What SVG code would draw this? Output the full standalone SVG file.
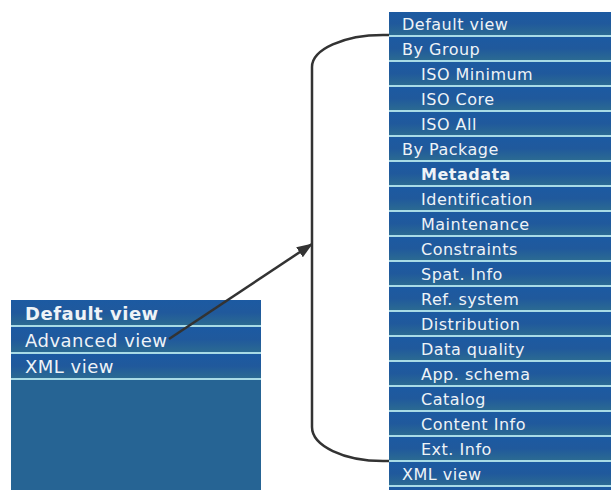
<svg xmlns="http://www.w3.org/2000/svg" width="611" height="490" viewBox="0 0 611 490">
  <style>
    .item { font-family: "DejaVu Sans", Verdana, sans-serif; fill: #eef3f7; }
    .r { font-size: 16px; letter-spacing: 0.5px; }
    .l { font-size: 18px; letter-spacing: 0.5px; }
    .b { font-weight: bold; }
    .sep { fill: #a8dbe6; }
    .link { fill: none; stroke: #333; stroke-width: 2.5; }
  </style>
  <defs>
    <linearGradient id="rowGrad" x1="0" y1="0" x2="0" y2="1">
      <stop offset="0" stop-color="#1c5aa2"/>
      <stop offset="0.5" stop-color="#20599c"/>
      <stop offset="1" stop-color="#2b6a92"/>
    </linearGradient>
    <!-- one menu row: shaded band plus a light separator at the bottom -->
    <pattern id="rowsRight" patternUnits="userSpaceOnUse" x="0" y="12" width="611" height="25">
      <rect x="0" y="0" width="611" height="23" fill="url(#rowGrad)"/>
      <rect class="sep" x="0" y="23" width="611" height="2"/>
    </pattern>
    <marker id="arrow" viewBox="0 0 16 12" refX="15" refY="6" markerWidth="16" markerHeight="12" markerUnits="userSpaceOnUse" orient="auto">
      <path d="M0,0 L16,6 L0,12 z" fill="#333"/>
    </marker>
  </defs>

  <rect width="611" height="490" fill="#fff"/>

  <!-- simple menu -->
  <g id="menu-simple">
    <rect x="11" y="300" width="250" height="190" fill="#266494"/>
    <rect x="11" y="300" width="250" height="25" fill="url(#rowGrad)"/>
    <rect class="sep" x="11" y="325" width="250" height="2"/>
    <rect x="11" y="327" width="250" height="25" fill="url(#rowGrad)"/>
    <rect class="sep" x="11" y="352" width="250" height="2"/>
    <rect x="11" y="354" width="250" height="24" fill="url(#rowGrad)"/>
    <rect class="sep" x="11" y="378" width="250" height="2"/>
    <text class="item l b" x="25" y="320">Default view</text>
    <text class="item l" x="25" y="346.5">Advanced view</text>
    <text class="item l" x="25" y="373">XML view</text>
  </g>

  <!-- advanced menu -->
  <g id="menu-advanced">
    <rect x="389" y="12" width="222" height="478" fill="url(#rowsRight)"/>
    <text class="item r" x="402" y="30">Default view</text>
    <text class="item r" x="402" y="55">By Group</text>
    <text class="item r" x="421" y="80">ISO Minimum</text>
    <text class="item r" x="421" y="105">ISO Core</text>
    <text class="item r" x="421" y="130">ISO All</text>
    <text class="item r" x="402" y="155">By Package</text>
    <text class="item r b" x="421" y="180">Metadata</text>
    <text class="item r" x="421" y="205">Identification</text>
    <text class="item r" x="421" y="230">Maintenance</text>
    <text class="item r" x="421" y="255">Constraints</text>
    <text class="item r" x="421" y="280">Spat. Info</text>
    <text class="item r" x="421" y="305">Ref. system</text>
    <text class="item r" x="421" y="330">Distribution</text>
    <text class="item r" x="421" y="355">Data quality</text>
    <text class="item r" x="421" y="380">App. schema</text>
    <text class="item r" x="421" y="405">Catalog</text>
    <text class="item r" x="421" y="430">Content Info</text>
    <text class="item r" x="421" y="455">Ext. Info</text>
    <text class="item r" x="402" y="480">XML view</text>
  </g>

  <!-- connectors -->
  <g id="connectors">
    <path class="link" d="M389 35 L383 35 A71 32 0 0 0 312 67 L312 427 A71 34 0 0 0 383 461 L389 461"/>
    <path class="link" d="M169 339 L312 244" marker-end="url(#arrow)"/>
  </g>
</svg>
